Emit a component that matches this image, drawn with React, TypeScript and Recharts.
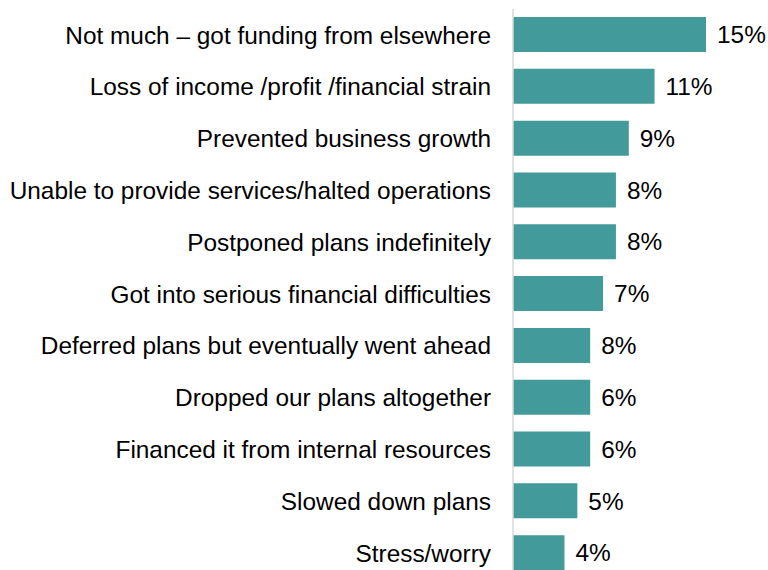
import React from 'react';
import { BarChart, Bar, XAxis, YAxis, LabelList } from 'recharts';

const categories = [
  'Not much – got funding from elsewhere',
  'Loss of income /profit /financial strain',
  'Prevented business growth',
  'Unable to provide services/halted operations',
  'Postponed plans indefinitely',
  'Got into serious financial difficulties',
  'Deferred plans but eventually went ahead',
  'Dropped our plans altogether',
  'Financed it from internal resources',
  'Slowed down plans',
  'Stress/worry',
];

// bar lengths as drawn
const values = [15, 11, 9, 8, 8, 7, 6, 6, 6, 5, 4];

// labels as printed next to the bars
const valueLabels = ['15%', '11%', '9%', '8%', '8%', '7%', '8%', '6%', '6%', '5%', '4%'];

const chartData = categories.map((name, i) => ({
  name,
  value: values[i],
  label: valueLabels[i],
}));

const font = '"Liberation Sans", Arial, sans-serif';

const App: React.FC = () => {
  return (
    <div style={{ position: 'absolute', left: 0, top: 0, width: 768, height: 570, overflow: 'hidden', background: '#fff' }}>
      <BarChart
        width={768}
        height={579}
        data={chartData}
        layout="vertical"
        margin={{ top: 9, right: 62, left: 0, bottom: 0 }}
        barSize={35}
      >
        <XAxis type="number" domain={[0, 15]} hide />
        <YAxis
          type="category"
          dataKey="name"
          width={513}
          tickLine={false}
          tickSize={0}
          tickMargin={22}
          axisLine={{ stroke: '#d9d9d9', strokeWidth: 1.5 }}
          tick={{ fill: '#000', fontSize: 24.4, fontFamily: font }}
          interval={0}
        />
        <Bar dataKey="value" fill="#439a9a" isAnimationActive={false}>
          <LabelList
            dataKey="label"
            position="right"
            offset={11}
            style={{ fill: '#000', fontSize: 24.4, fontFamily: font }}
          />
        </Bar>
      </BarChart>
    </div>
  );
};

export default App;
